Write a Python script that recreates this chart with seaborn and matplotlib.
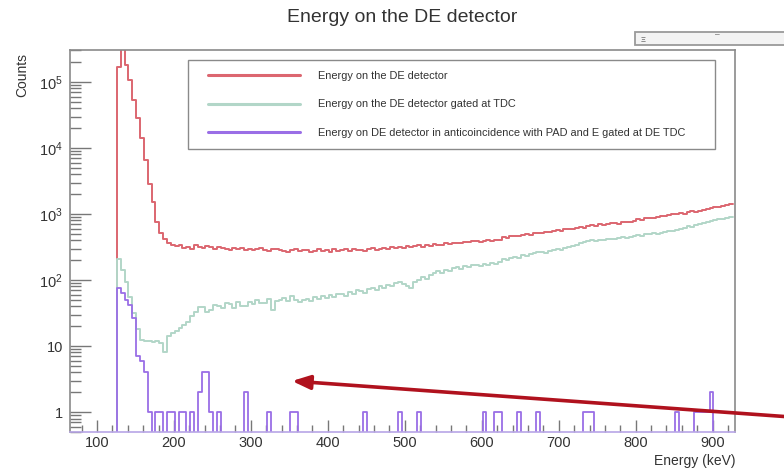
import numpy as np
import pandas as pd
import matplotlib
matplotlib.use("Agg")
import matplotlib.pyplot as plt
import seaborn as sns
from matplotlib.lines import Line2D
from matplotlib.legend_handler import HandlerLine2D
from matplotlib.patches import Rectangle
from matplotlib.ticker import MultipleLocator, LogLocator, FuncFormatter, NullFormatter

# ---------------- data (counts per 5 keV bin, starting at 66 keV) ----------------
bin_start_kev = 66
bin_width_kev = 5

counts_de = [
    0, 0, 0, 0, 0, 0, 0, 0, 0, 0, 0, 0,
    1.7e5, 3.5e5, 1.8e5, 1.07e5, 5.3e4, 2.8e4, 1.4e4, 6.6e3, 2.9e3, 1.5e3, 760, 516, 420, 370,
    340, 325, 345, 310, 318, 300, 335, 322, 305, 330, 312, 298, 320, 305,
    300, 285, 310, 295, 305, 290, 300, 282, 296, 304,
    290, 275, 292, 300, 283, 280, 270, 288, 295, 276,
    290, 284, 268, 280, 292, 275, 285, 270, 296, 280,
    285, 292, 278, 300, 287, 290, 275, 296, 302, 288,
    300, 308, 293, 312, 305, 320, 310, 325, 316, 330,
    335, 322, 342, 330, 350, 345, 338, 360, 352, 365,
    370, 358, 380, 372, 390, 385, 376, 395, 400, 392,
    405, 398, 455, 440, 462, 470, 458, 480, 495, 488,
    510, 525, 515, 540, 530, 560, 575, 555, 590, 600,
    590, 610, 640, 625, 660, 680, 670, 700, 690, 710,
    720, 735, 710, 750, 745, 760, 790, 830, 815, 860,
    880, 870, 905, 930, 920, 970, 985, 1000, 1030, 1010,
    1080, 1100, 1070, 1130, 1150, 1200, 1220, 1260, 1300, 1330,
    1380, 1420,
]

counts_de_tdc = [
    0, 0, 0, 0, 0, 0, 0, 0, 0, 0, 0, 0,
    210, 140, 95, 55, 32, 18, 12.5, 12, 12, 11.5, 12, 11, 8, 14,
    16, 17, 19, 21, 23, 29, 33, 39, 39, 33, 35, 42, 40, 38,
    45, 43, 38, 46, 41, 40, 47, 44, 50, 45,
    45, 52, 35, 48, 50, 53, 49, 57, 50, 47,
    50, 52, 48, 55, 51, 58, 54, 60, 56, 62,
    62, 58, 65, 61, 70, 68, 64, 72, 75, 70,
    80, 77, 85, 82, 90, 94, 88, 80, 76, 92,
    100, 112, 105, 120, 128, 135, 130, 142, 138, 150,
    155, 148, 162, 158, 170, 172, 165, 178, 170, 182,
    178, 185, 205, 198, 215, 225, 218, 240, 232, 250,
    253, 262, 270, 258, 280, 290, 300, 285, 310, 320,
    330, 345, 360, 380, 395, 400, 390, 410, 405, 420,
    420, 415, 430, 445, 438, 450, 465, 480, 470, 495,
    500, 510, 495, 525, 540, 545, 560, 575, 590, 620,
    650, 640, 680, 700, 720, 760, 780, 800, 830, 850,
    880, 900,
]

counts_anti = [
    0, 0, 0, 0, 0, 0, 0, 0, 0, 0, 0, 0,
    76, 63, 50, 42, 27, 7, 6, 4,
    1, 0, 1, 1, 0, 1, 1, 0, 1, 1, 0,
    1, 0, 2, 4, 4, 1, 0, 1, 0,
    0, 0, 0, 0, 0, 2, 0, 0, 0, 0,
    0, 1, 0, 0, 0, 0, 0, 1, 1, 0,
    0, 0, 0, 0, 0, 0, 0, 0, 0, 0,
    0, 0, 0, 0, 0, 0, 1, 0, 0, 0,
    0, 0, 0, 0, 0, 1, 0, 0, 0, 0,
    1, 0, 0, 0, 0, 0, 0, 0, 0, 0,
    0, 0, 0, 0, 0, 0, 0, 1, 0, 0,
    1, 1, 0, 0, 0, 0, 1, 0, 0, 0,
    0, 1, 0, 0, 0, 0, 0, 0, 0, 0,
    0, 0, 0, 1, 1, 1, 0, 0, 0, 0,
    0, 0, 0, 0, 0, 0, 0, 0, 0, 0,
    0, 0, 0, 0, 0, 0, 0, 1, 0, 0,
    0, 0, 1, 1, 1, 1, 2, 0, 0, 0,
    0, 0,
]

series_labels = [
    "Energy on the DE detector",
    "Energy on the DE detector gated at TDC",
    "Energy on DE detector in anticoincidence with PAD and E gated at DE TDC",
]

# ---------------- style ----------------
RED = "#dc6670"
GREEN = "#b2d6c8"
PURPLE = "#9a6ee6"

sns.set_theme(style="white")
plt.rcParams["font.family"] = ["Liberation Sans", "DejaVu Sans"]
plt.rcParams["mathtext.fontset"] = "custom"
plt.rcParams["mathtext.rm"] = "Liberation Sans"
plt.rcParams["mathtext.it"] = "Liberation Sans:italic"
plt.rcParams["mathtext.bf"] = "Liberation Sans:bold"

n_bins = len(counts_de)
edges = [float(e) for e in bin_start_kev + bin_width_kev * np.arange(n_bins + 1)]
centers = np.array(edges[:-1]) + bin_width_kev / 2

df = pd.DataFrame({
    "energy": centers,
    "de": counts_de,
    "de_tdc": counts_de_tdc,
    "anti": counts_anti,
})

fig = plt.figure(figsize=(7.84, 4.71), dpi=100)
ax = fig.add_axes([70 / 784, 39 / 471, 665 / 784, 382 / 471])

sns.histplot(data=df, x="energy", weights="de", bins=edges, element="step",
             fill=False, color=RED, linewidth=1.4, ax=ax)
sns.histplot(data=df, x="energy", weights="de_tdc", bins=edges, element="step",
             fill=False, color=GREEN, linewidth=1.4, ax=ax)
sns.histplot(data=df, x="energy", weights="anti", bins=edges, element="step",
             fill=False, color=PURPLE, linewidth=1.3, ax=ax)

ax.set_yscale("log")
ax.set_xlim(65, 929)
ax.set_ylim(0.5, 3.05e5)
ax.set_xlabel("")
ax.set_ylabel("")

# ticks (ROOT style, inside)
ax.xaxis.set_major_locator(MultipleLocator(100))
ax.xaxis.set_minor_locator(MultipleLocator(20))
ax.yaxis.set_major_locator(LogLocator(base=10, numticks=12))
ax.yaxis.set_minor_locator(LogLocator(base=10, subs=np.arange(2, 10), numticks=12))
ax.yaxis.set_minor_formatter(NullFormatter())


def yfmt(v, pos):
    n = int(round(np.log10(v)))
    if n == 0:
        return "1"
    if n == 1:
        return "10"
    return r"$\mathregular{10^{%d}}$" % n


ax.yaxis.set_major_formatter(FuncFormatter(yfmt))
ax.tick_params(axis="both", which="both", direction="in", bottom=True, left=True,
               top=False, right=False, colors="#777777", labelcolor="#333333",
               labelsize=10.5, width=1)
ax.tick_params(axis="y", which="major", length=15, pad=5)
ax.tick_params(axis="y", which="minor", length=8)
ax.tick_params(axis="x", which="major", length=9, pad=3)
ax.tick_params(axis="x", which="minor", length=5)
for s in ax.spines.values():
    s.set_color("#8a8a8a")
    s.set_linewidth(1.2)
    s.set_visible(True)
ax.spines["bottom"].set_color("#b7a5e6")

# legend
handles = [Line2D([], [], color=c, lw=2.2) for c in (RED, GREEN, PURPLE)]
leg = ax.legend(handles, series_labels, loc="upper left",
                bbox_to_anchor=(0.1774, 0.733, 0.7925, 0.2408), mode="expand",
                borderaxespad=0, fontsize=7.9, frameon=True, fancybox=False,
                framealpha=1, edgecolor="#8a8a8a", borderpad=1.0,
                labelspacing=1.68, handlelength=9.21, handletextpad=1.64,
                handler_map={Line2D: HandlerLine2D(xpad=0.82)})
leg.get_frame().set_linewidth(1.0)
for t in leg.get_texts():
    t.set_color("#333333")

# titles and axis labels
fig.text(402 / 784, 1 - 18 / 471, "Energy on the DE detector", ha="center",
         va="center", fontsize=14, color="#333333")
fig.text(22 / 784, 1 - 53 / 471, "Counts", rotation=90, ha="center", va="top",
         fontsize=10, color="#333333")
fig.text(735 / 784, 1 - 461 / 471, "Energy (keV)", ha="right", va="center",
         fontsize=10, color="#333333")

# ROOT canvas toolbar strip at top right
fig.patches.append(Rectangle((635 / 784, 1 - 45 / 471), 160 / 784, 13 / 471,
                             transform=fig.transFigure, facecolor="#f3f3f3",
                             edgecolor="#9a9a9a", linewidth=1.3))
fig.text(643 / 784, 1 - 40 / 471, "Ξ", ha="center", va="center", fontsize=5.5,
         color="#444444")
fig.text(717 / 784, 1 - 35 / 471, "–", ha="center", va="center", fontsize=6,
         color="#444444")

# red arrow annotation
ax.annotate("", xy=(292 / 784, 1 - 381 / 471), xycoords="figure fraction",
            xytext=(805 / 784, 1 - 418 / 471), textcoords="figure fraction",
            arrowprops=dict(arrowstyle="-|>,head_length=0.9,head_width=0.35",
                            color="#b0121e", lw=2.6, shrinkA=0, shrinkB=0),
            annotation_clip=False)

fig.savefig("out.png", dpi=100, facecolor="white")
